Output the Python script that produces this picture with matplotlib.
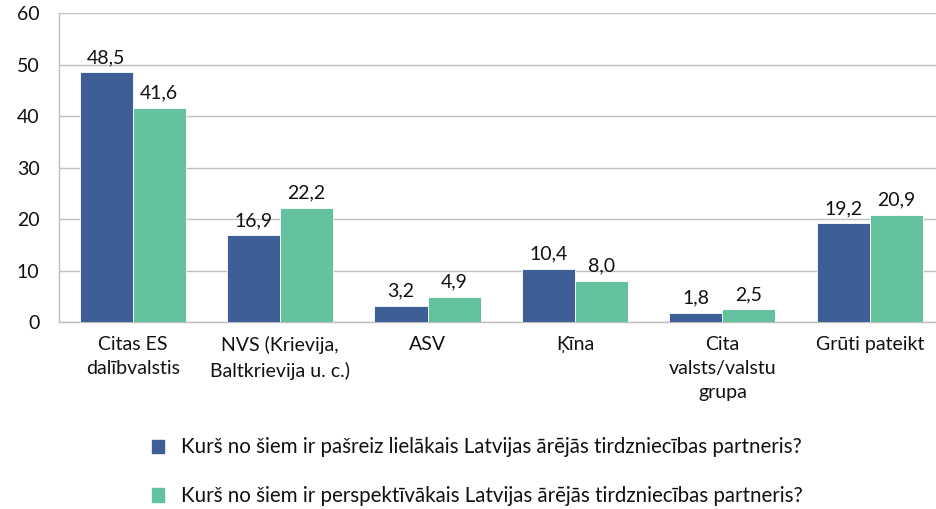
import matplotlib.pyplot as plt
from matplotlib.patches import Patch
import numpy as np

plt.rcParams['font.family'] = ['Lato', 'DejaVu Sans']

categories = ['Citas ES\ndalībvalstis', 'NVS (Krievija,\nBaltkrievija u. c.)', 'ASV', 'Ķīna',
              'Cita\nvalsts/valstu\ngrupa', 'Grūti pateikt']
current = [48.5, 16.9, 3.2, 10.4, 1.8, 19.2]
future = [41.6, 22.2, 4.9, 8.0, 2.5, 20.9]
labels = ['Kurš no šiem ir pašreiz lielākais Latvijas ārējās tirdzniecības partneris?',
          'Kurš no šiem ir perspektīvākais Latvijas ārējās tirdzniecības partneris?']
blue = '#3D5F96'
green = '#64C39E'
fs = 14

fig = plt.figure(figsize=(9.36, 5.09), dpi=100)
ax = fig.add_axes([0.063, 0.367, 0.945, 0.607])

x = np.arange(len(categories))
w = 0.36
b1 = ax.bar(x - w / 2, current, w, color=blue, edgecolor='white', linewidth=0.6, zorder=3)
b2 = ax.bar(x + w / 2, future, w, color=green, edgecolor='white', linewidth=0.6, zorder=3)

for bars, vals in ((b1, current), (b2, future)):
    for r, v in zip(bars, vals):
        ax.text(r.get_x() + r.get_width() / 2, v + 1.2, f'{v:.1f}'.replace('.', ','),
                ha='center', va='bottom', fontsize=fs, color='#111111')

ax.set_xlim(-0.5, 5.5)
ax.set_ylim(0, 60)
ax.set_yticks(range(0, 61, 10))
ax.set_xticks(x)
ax.set_xticklabels(categories, fontsize=fs, linespacing=1.5)
ax.tick_params(axis='both', length=0, labelsize=fs, colors='#111111')
ax.tick_params(axis='x', pad=10)
ax.tick_params(axis='y', pad=14)
ax.grid(axis='y', color='#BFBFBF', linewidth=1, zorder=0)
for s in ('top', 'right'):
    ax.spines[s].set_visible(False)
for s in ('left', 'bottom'):
    ax.spines[s].set_color('#BFBFBF')
    ax.spines[s].set_linewidth(1)

handles = [Patch(color=blue), Patch(color=green)]
fig.legend(handles, labels, loc='center', bbox_to_anchor=(0.51, 0.073), frameon=False,
           fontsize=14.8, labelspacing=1.4, handlelength=0.6, handleheight=0.6,
           handletextpad=0.8, labelcolor='#111111')

fig.savefig('out.png', dpi=100)
